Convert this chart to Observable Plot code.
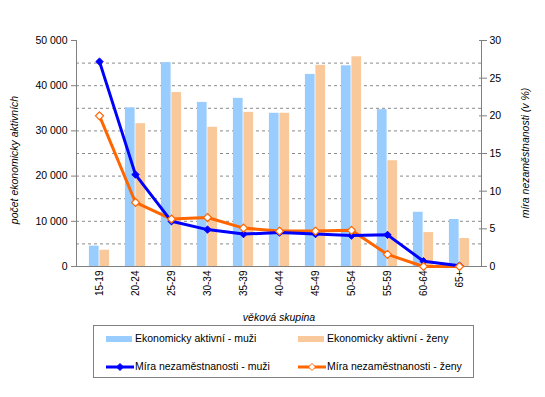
<!DOCTYPE html>
<html>
<head>
<meta charset="utf-8">
<script src="https://cdn.jsdelivr.net/npm/d3@7"></script>
<script src="https://cdn.jsdelivr.net/npm/@observablehq/plot@0.6"></script>
<style>
  body { margin: 0; background: #fff; font-family: "Liberation Sans", Arial, sans-serif; }
  #wrap { position: relative; width: 545px; height: 397px; }
  #wrap > svg { position: absolute; left: 0; top: 0; }
  #legend { position: absolute; left: 93px; top: 325px; width: 381px; height: 53px; border: 1px solid #808080; box-sizing: border-box; }
  .item { position: absolute; font-size: 10.5px; line-height: 12px; color: #000; white-space: nowrap; }
  .sw { position: absolute; }
  .title { position: absolute; font-size: 10.5px; font-style: italic; color: #000; white-space: nowrap; line-height: 12px; }
</style>
</head>
<body>
<div id="wrap"></div>
<script>
const categories = ["15-19","20-24","25-29","30-34","35-39","40-44","45-49","50-54","55-59","60-64","65+"];
const activeMen   = [4500, 35100, 45100, 36300, 37200, 33900, 42500, 44400, 34700, 12000, 10400];
const activeWomen = [3600, 31600, 38500, 30800, 34100, 33900, 44500, 46400, 23400, 7500, 6200];
const unempMen    = [27.2, 12.2, 6.0, 4.9, 4.3, 4.5, 4.3, 4.1, 4.2, 0.7, 0.1];
const unempWomen  = [20.0, 8.5, 6.3, 6.5, 5.1, 4.7, 4.7, 4.8, 1.6, 0.0, 0.0];
const leftTicks = [0, 10000, 20000, 30000, 40000, 50000];
const gridTicks = [5000, 10000, 15000, 20000, 25000, 30000, 35000, 40000, 45000];
const rightTicks = [0, 5, 10, 15, 20, 25, 30];
const labels = {
  menBar: "Ekonomicky aktivní - muži",
  womenBar: "Ekonomicky aktivní - ženy",
  menLine: "Míra nezaměstnanosti - muži",
  womenLine: "Míra nezaměstnanosti - ženy",
  yLeft: "počet ekonomicky aktivních",
  yRight: "míra nezaměstnanosti (v %)",
  x: "věková skupina"
};
const colors = { menBar: "#99CCFF", womenBar: "#F9C89B", menLine: "#0000FF", womenLine: "#FF6600" };

const yMax = 50000, rMax = 30;
const k = yMax / rMax;
const rows = categories.map((c, i) => ({
  cat: c, men: activeMen[i], women: activeWomen[i], um: unempMen[i] * k, uw: unempWomen[i] * k
}));
const fmt = d => d3.format(",")(d).replace(/,/g, " ");

const chart = Plot.plot({
  width: 545,
  height: 325,
  marginLeft: 76,
  marginRight: 64,
  marginTop: 40,
  marginBottom: 59,
  style: { fontFamily: "'Liberation Sans', Arial, sans-serif", fontSize: "10.5px", background: "transparent", color: "#000" },
  x: { domain: categories, padding: 0, label: null },
  y: { domain: [0, yMax], label: null },
  marks: [
    Plot.ruleY(gridTicks, { stroke: "#8a8a8a", strokeDasharray: "3,3", strokeWidth: 1 }),
    Plot.barY(rows, { x: "cat", y: "men", fill: colors.menBar, insetLeft: 7.9, insetRight: 18.4 }),
    Plot.barY(rows, { x: "cat", y: "women", fill: colors.womenBar, insetLeft: 18.4, insetRight: 7.9 }),
    Plot.frame({ anchor: "left", stroke: "#808080" }),
    Plot.frame({ anchor: "right", stroke: "#808080" }),
    Plot.frame({ anchor: "bottom", stroke: "#808080" }),
    Plot.line(rows, { x: "cat", y: "uw", stroke: colors.womenLine, strokeWidth: 3 }),
    Plot.line(rows, { x: "cat", y: "um", stroke: colors.menLine, strokeWidth: 3 }),
    Plot.dot(rows, { x: "cat", y: "um", symbol: "diamond2", r: 3.3, fill: colors.menLine, stroke: colors.menLine, strokeWidth: 1 }),
    Plot.dot(rows, { x: "cat", y: "uw", symbol: "diamond2", r: 3.6, fill: "#fff", stroke: colors.womenLine, strokeWidth: 1.2 }),
    Plot.axisY(leftTicks, { anchor: "left", tickFormat: fmt, tickSize: 5, tickPadding: 4, stroke: "#808080", fill: "#000", label: null }),
    Plot.axisY(rightTicks.map(v => v * k), { anchor: "right", tickFormat: d => String(Math.round(d / k)), tickSize: 5, tickPadding: 3, stroke: "#808080", fill: "#000", label: null }),
    Plot.axisY(rightTicks.map(v => v * k), { anchor: "right", tickFormat: () => "", tickSize: -3, stroke: "#808080", label: null }),
    Plot.axisX({ anchor: "bottom", tickSize: 0, tickPadding: 4, tickRotate: -90, fontSize: 10, fill: "#000", label: null })
  ]
});

const wrap = document.getElementById("wrap");
wrap.appendChild(chart);

// axis titles
function title(text, cx, cy, rot) {
  const d = document.createElement("div");
  d.className = "title";
  d.textContent = text;
  d.style.left = cx + "px";
  d.style.top = cy + "px";
  d.style.transform = `translate(-50%,-50%) rotate(${rot}deg)`;
  wrap.appendChild(d);
}
title(labels.yLeft, 14, 160, -90);
title(labels.yRight, 525, 153, -90);
title(labels.x, 279, 317, 0);

// legend
const legend = document.createElement("div");
legend.id = "legend";
wrap.appendChild(legend);
function barItem(x, y, color, text) {
  const s = document.createElement("div");
  s.className = "sw";
  s.style.cssText = `left:${x}px;top:${y - 3}px;width:26px;height:6px;background:${color}`;
  legend.appendChild(s);
  const t = document.createElement("div");
  t.className = "item";
  t.style.cssText = `left:${x + 29}px;top:${y - 7}px`;
  t.textContent = text;
  legend.appendChild(t);
}
function lineItem(x, y, color, filled, text) {
  const ns = "http://www.w3.org/2000/svg";
  const svg = document.createElementNS(ns, "svg");
  svg.setAttribute("width", 28); svg.setAttribute("height", 10);
  svg.style.cssText = `position:absolute;left:${x}px;top:${y - 5}px`;
  const l = document.createElementNS(ns, "line");
  l.setAttribute("x1", 0); l.setAttribute("x2", 28); l.setAttribute("y1", 5); l.setAttribute("y2", 5);
  l.setAttribute("stroke", color); l.setAttribute("stroke-width", 3);
  svg.appendChild(l);
  const p = document.createElementNS(ns, "path");
  p.setAttribute("d", "M14,1.5L17.5,5L14,8.5L10.5,5Z");
  p.setAttribute("fill", filled ? color : "#fff"); p.setAttribute("stroke", color);
  svg.appendChild(p);
  legend.appendChild(svg);
  const t = document.createElement("div");
  t.className = "item";
  t.style.cssText = `left:${x + 29}px;top:${y - 7}px`;
  t.textContent = text;
  legend.appendChild(t);
}
barItem(12, 13, colors.menBar, labels.menBar);
barItem(204, 13, colors.womenBar, labels.womenBar);
lineItem(12, 41, colors.menLine, true, labels.menLine);
lineItem(204, 41, colors.womenLine, false, labels.womenLine);
</script>
</body>
</html>
